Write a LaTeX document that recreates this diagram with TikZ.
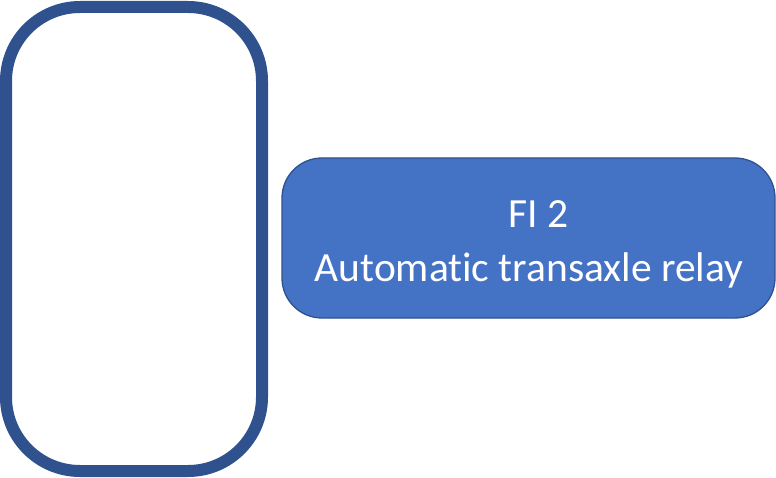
\documentclass[tikz,border=0pt]{standalone}
\usepackage{fontspec}
\setmainfont[Ligatures=NoCommon]{Carlito}
\definecolor{frameblue}{HTML}{2F528F}
\definecolor{fillblue}{HTML}{4472C4}
\begin{document}
\begin{tikzpicture}[x=1pt,y=-1pt,
  framebox/.style={draw=frameblue,line width=12pt,rounded corners=74pt},
  relaybox/.style={draw=frameblue,fill=fillblue,line width=1.3pt,rounded corners=40pt},
  relaytext/.style={text=white,font=\fontsize{41.5}{54}\selectfont,align=center,inner sep=0pt}]
\useasboundingbox (0,0) rectangle (776,478);
% tall empty frame on the left
\draw[framebox] (6,7) rectangle (262,471);
% relay label box
\draw[relaybox] (282,158) rectangle (775,318);
\node[relaytext] (relay) at (529,244) {\hspace*{19pt}FI 2\\Automatic transaxle relay};
\end{tikzpicture}
\end{document}
